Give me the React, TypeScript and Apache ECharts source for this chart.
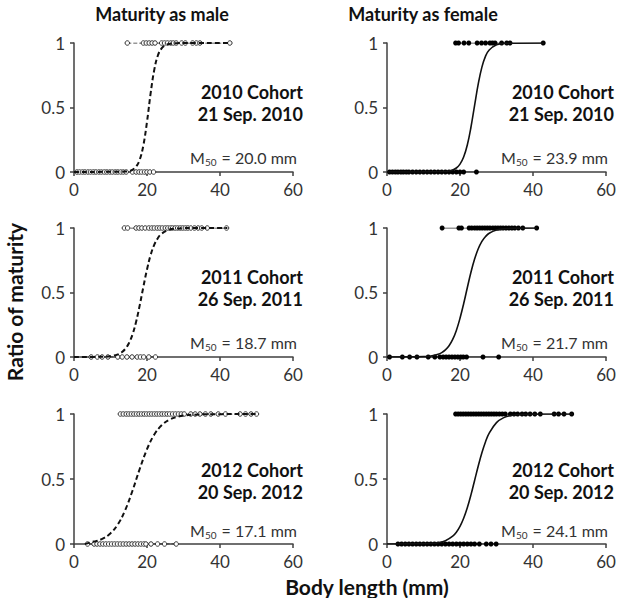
import React, { useEffect, useRef } from "react";
import * as echarts from "echarts";

// ---------- data ----------
const panelTitles = ["2010 Cohort", "2011 Cohort", "2012 Cohort"];
const panelDates = ["21 Sep. 2010", "26 Sep. 2011", "20 Sep. 2012"];
const maleM50 = ["20.0", "18.7", "17.1"];
const femaleM50 = ["23.9", "21.7", "24.1"];

// Male (left column) – mature (y = 1) and immature (y = 0) body lengths
const male2010Mature = [14.6, 19, 19.8, 20.6, 21.4, 22.2, 24, 24.8, 25.6, 26.5, 27.2, 28, 29.5, 30.5, 32.5, 33.5, 34.5, 42.7];
const male2010Immature = [0.8, 1.5, 2.3, 3, 3.8, 4.5, 5.3, 6, 6.8, 7.5, 8.3, 9, 9.8, 10.5, 11.3, 12, 12.8, 13.5, 14.3, 16, 17, 17.8, 18.5, 19.3, 20, 20.8, 21.8];
const male2011Mature = [13.8, 14.7, 17, 17.8, 18.6, 19.5, 20.5, 21.3, 22, 22.8, 23.5, 24.2, 25, 25.7, 26.4, 27, 27.7, 28.4, 29.1, 29.8, 30.5, 31.2, 32, 33, 34, 35, 36.5, 41.8];
const male2011Immature = [4.7, 6.4, 7.7, 9.3, 12, 13.2, 14.5, 15.9, 17.3, 18.2, 19.1, 20.5, 22.3];
const male2012Mature = [12.7, 13.5, 14.3, 15, 15.7, 16.4, 17.1, 17.8, 18.5, 19.2, 19.9, 20.6, 21.3, 22, 22.7, 23.4, 24.1, 24.8, 25.5, 26.2, 27, 27.8, 28.6, 29.4, 30.2, 32, 33.2, 34.5, 36, 37.5, 39.5, 41.5, 45.5, 47, 48.5, 50];
const male2012Immature = [3.7, 5.5, 6.3, 7.1, 7.9, 8.7, 9.5, 10.3, 11.1, 11.9, 12.7, 13.5, 14.3, 15.1, 15.9, 16.7, 17.5, 18.3, 19.1, 19.7, 21.1, 22.9, 24.8, 28];

// Female (right column)
const female2010Mature = [18.8, 19.6, 21.1, 22.4, 24.7, 25.9, 27, 28.2, 28.9, 29.6, 31.4, 32.8, 33.7, 42.8];
const female2010Immature = [0.7, 1.5, 2.3, 3, 3.8, 4.5, 5.3, 6, 7, 8, 9, 10, 11, 12, 13, 14, 15, 16, 17, 18, 19, 20, 21, 24.5];
const female2011Mature = [15.1, 19.7, 20.4, 22.5, 23.2, 24, 24.7, 25.4, 26.1, 26.8, 27.5, 28.2, 29, 29.7, 30.4, 31.1, 31.8, 32.6, 33.4, 34.2, 35, 36, 37.2, 41];
const female2011Immature = [0.7, 4.2, 6.2, 8.2, 11.3, 13.1, 14.5, 15.4, 16.2, 17, 17.8, 18.6, 19.4, 20.2, 20.9, 21.8, 26.3, 30.6];
const female2012Mature = [18.8, 19.5, 20.2, 20.9, 21.6, 22.3, 23, 23.7, 24.4, 25.1, 25.8, 26.5, 27.2, 27.9, 28.6, 29.3, 30, 30.8, 31.6, 32.4, 33.8, 34.8, 35.8, 37, 38, 39.2, 40.5, 42, 45.8, 47, 48.5, 50.6];
const female2012Immature = [3, 4, 5, 6, 7, 8, 9, 10, 11, 12, 13, 14, 15, 16, 17, 18, 19, 20, 21, 22, 23, 24, 25.3, 27.2, 28.5, 29.9];

// Fitted maturity curves (x = body length, y = ratio)
const male2010CurveX = [0, 14, 15, 16, 17, 18, 19, 20, 21, 22, 23, 24, 25, 26, 28, 43];
const male2010CurveY = [0, 0.003, 0.007, 0.017, 0.041, 0.095, 0.206, 0.389, 0.611, 0.794, 0.905, 0.959, 0.983, 0.993, 0.999, 1];
const male2011CurveX = [0, 8, 10, 12, 13, 14, 15, 16, 17, 18, 19, 20, 21, 22, 23, 24, 26, 28, 30, 42];
const male2011CurveY = [0, 0.002, 0.006, 0.02, 0.035, 0.061, 0.105, 0.172, 0.271, 0.4, 0.543, 0.679, 0.791, 0.871, 0.923, 0.956, 0.986, 0.995, 0.999, 1];
const male2012CurveX = [3, 5, 6, 8, 10, 12, 14, 16, 18, 20, 22, 24, 26, 28, 30, 33, 36, 50];
const male2012CurveY = [0, 0.016, 0.022, 0.043, 0.082, 0.15, 0.259, 0.408, 0.577, 0.729, 0.842, 0.913, 0.954, 0.976, 0.988, 0.995, 0.998, 1];
const female2010CurveX = [0, 16, 18, 19, 20, 21, 22, 23, 24, 25, 26, 27, 28, 30, 32, 43];
const female2010CurveY = [0, 0.004, 0.016, 0.031, 0.061, 0.116, 0.209, 0.347, 0.517, 0.683, 0.813, 0.898, 0.946, 0.986, 0.997, 1];
const female2011CurveX = [0, 10, 12, 14, 15, 16, 17, 18, 19, 20, 21, 22, 23, 24, 25, 26, 27, 28, 30, 32, 35, 41];
const female2011CurveY = [0, 0.003, 0.008, 0.021, 0.034, 0.055, 0.087, 0.136, 0.206, 0.3, 0.413, 0.537, 0.657, 0.759, 0.839, 0.896, 0.934, 0.959, 0.984, 0.994, 0.999, 1];
const female2012CurveX = [0, 10, 12, 14, 16, 18, 19, 20, 21, 22, 23, 24, 25, 26, 27, 28, 30, 32, 34, 37, 40, 51];
const female2012CurveY = [0, 0.002, 0.004, 0.01, 0.025, 0.06, 0.091, 0.136, 0.198, 0.279, 0.378, 0.489, 0.6, 0.702, 0.787, 0.853, 0.934, 0.972, 0.989, 0.997, 0.999, 1];

const xMin = 0, xMax = 60, xInterval = 20;
const yMin = 0, yMax = 1, yInterval = 0.5;

// ---------- layout ----------
const colLeft = [74, 387];
const colWidth = 219;
const rowTop = [43, 228, 414];
const rowHeight = [129, 129, 130];
const textOffsets = [
  [49, 71, 114],
  [49, 71, 114],
  [56, 78, 116],
];

const FONT = "Lato, 'Open Sans', sans-serif";
const AXIS_COLOR = "#404040";
const TEXT_COLOR = "#333333";

export default function App() {
  const ref = useRef<HTMLDivElement>(null);

  useEffect(() => {
    if (!ref.current) return;
    const chart = echarts.init(ref.current, undefined, { renderer: "svg" });

    const male = [
      { mature: male2010Mature, immature: male2010Immature, cx: male2010CurveX, cy: male2010CurveY },
      { mature: male2011Mature, immature: male2011Immature, cx: male2011CurveX, cy: male2011CurveY },
      { mature: male2012Mature, immature: male2012Immature, cx: male2012CurveX, cy: male2012CurveY },
    ];
    const female = [
      { mature: female2010Mature, immature: female2010Immature, cx: female2010CurveX, cy: female2010CurveY },
      { mature: female2011Mature, immature: female2011Immature, cx: female2011CurveX, cy: female2011CurveY },
      { mature: female2012Mature, immature: female2012Immature, cx: female2012CurveX, cy: female2012CurveY },
    ];

    const grids: any[] = [];
    const xAxes: any[] = [];
    const yAxes: any[] = [];
    const series: any[] = [];
    const graphics: any[] = [];

    const addPanel = (row: number, col: number, d: any, m50: string) => {
      const idx = grids.length;
      const isMale = col === 0;
      grids.push({ left: colLeft[col], top: rowTop[row], width: colWidth, height: rowHeight[row] });
      xAxes.push({
        gridIndex: idx, type: "value", min: xMin, max: xMax, interval: xInterval,
        axisLine: { onZero: false, lineStyle: { color: AXIS_COLOR, width: 1.5 } },
        axisTick: { show: true, length: 4, lineStyle: { color: AXIS_COLOR, width: 1.5 } },
        axisLabel: { color: TEXT_COLOR, fontSize: 17, fontFamily: FONT, margin: 9 },
        splitLine: { show: false },
      });
      yAxes.push({
        gridIndex: idx, type: "value", min: yMin, max: yMax, interval: yInterval,
        axisLine: { show: true, lineStyle: { color: AXIS_COLOR, width: 1.5 } },
        axisTick: { show: true, length: 4, lineStyle: { color: AXIS_COLOR, width: 1.5 } },
        axisLabel: { color: TEXT_COLOR, fontSize: 17, fontFamily: FONT, margin: 9 },
        splitLine: { show: false },
      });
      const lineType = isMale ? "dashed" : "solid";
      const symStyle = isMale
        ? { color: "#ffffff", borderColor: "#333333", borderWidth: 1 }
        : { color: "#000000", borderColor: "#000000", borderWidth: 0 };
      const pts = (arr: number[], y: number) => arr.map((x) => [x, y]);
      series.push({
        type: "line", xAxisIndex: idx, yAxisIndex: idx,
        data: pts(d.immature, 0), symbol: "circle", symbolSize: isMale ? 4.5 : 5,
        itemStyle: symStyle, lineStyle: { color: "#333", width: 1, type: lineType },
        z: 3,
      });
      series.push({
        type: "line", xAxisIndex: idx, yAxisIndex: idx,
        data: pts(d.mature, 1), symbol: "circle", symbolSize: isMale ? 4.5 : 5,
        itemStyle: symStyle, lineStyle: { color: "#333", width: 1, type: lineType },
        z: 3,
      });
      series.push({
        type: "line", xAxisIndex: idx, yAxisIndex: idx,
        data: d.cx.map((x: number, i: number) => [x, d.cy[i]]),
        showSymbol: false, smooth: 0.4,
        lineStyle: { color: "#111", width: isMale ? 2 : 1.6, type: isMale ? [5, 3] : "solid" },
        z: 4,
      });
      const right = colLeft[col] + colWidth + (isMale ? 10 : 8);
      const off = textOffsets[row];
      graphics.push({
        type: "text", x: right, y: rowTop[row] + off[0],
        style: { text: panelTitles[row], fill: "#111", font: `bold 18px ${FONT}`, align: "right", verticalAlign: "middle" },
      });
      graphics.push({
        type: "text", x: right, y: rowTop[row] + off[1],
        style: { text: panelDates[row], fill: "#111", font: `bold 18px ${FONT}`, align: "right", verticalAlign: "middle" },
      });
      graphics.push({
        type: "text", x: right - 6, y: rowTop[row] + off[2],
        style: {
          text: `{a|M}{s|50}{a| = ${m50} mm}`,
          align: "right", verticalAlign: "middle",
          rich: {
            a: { fontSize: 16, fontFamily: FONT, fill: TEXT_COLOR, lineHeight: 20 },
            s: { fontSize: 10, fontFamily: FONT, fill: TEXT_COLOR, lineHeight: 20, padding: [9, 1, 0, 0] },
          },
        },
      });
    };

    for (let r = 0; r < 3; r++) {
      addPanel(r, 0, male[r], maleM50[r]);
      addPanel(r, 1, female[r], femaleM50[r]);
    }

    graphics.push({
      type: "text", x: 162, y: 14,
      style: { text: "Maturity as male", fill: "#111", font: `bold 18px ${FONT}`, align: "center", verticalAlign: "middle" },
    });
    graphics.push({
      type: "text", x: 423, y: 14,
      style: { text: "Maturity as female", fill: "#111", font: `bold 18px ${FONT}`, align: "center", verticalAlign: "middle" },
    });
    graphics.push({
      type: "text", x: 14, y: 302, rotation: Math.PI / 2,
      style: { text: "Ratio of maturity", fill: "#111", font: `bold 21px ${FONT}`, align: "center", verticalAlign: "middle" },
    });
    graphics.push({
      type: "text", x: 367, y: 586,
      style: { text: "Body length (mm)", fill: "#111", font: `bold 21px ${FONT}`, align: "center", verticalAlign: "middle" },
    });

    chart.setOption({
      animation: false,
      backgroundColor: "#ffffff",
      grid: grids,
      xAxis: xAxes,
      yAxis: yAxes,
      series,
      graphic: graphics,
    });

    return () => chart.dispose();
  }, []);

  return (
    <div
      ref={ref}
      style={{ position: "fixed", left: 0, top: 0, width: 619, height: 598 }}
    />
  );
}
